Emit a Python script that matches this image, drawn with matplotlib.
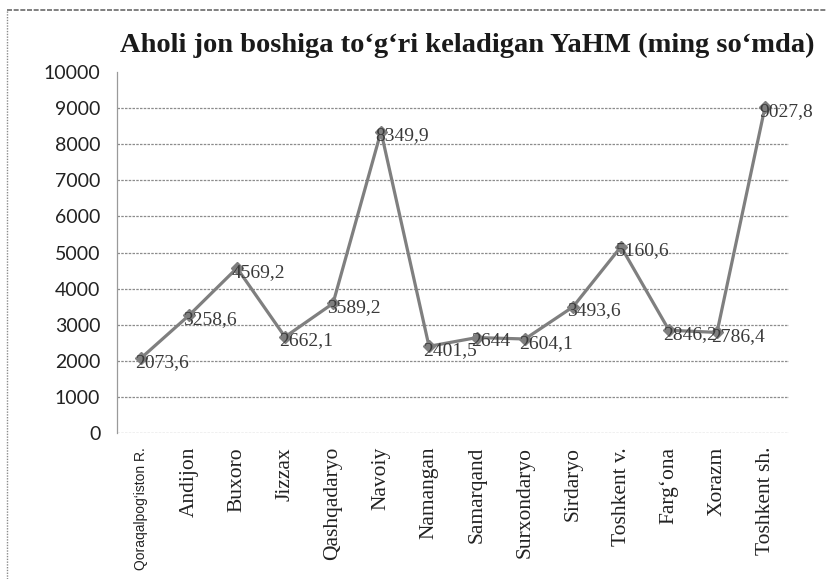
import matplotlib
matplotlib.use("Agg")
import matplotlib.pyplot as plt
from matplotlib.lines import Line2D

categories = ["Qoraqalpog\u2018iston R.", "Andijon", "Buxoro", "Jizzax", "Qashqadaryo",
              "Navoiy", "Namangan", "Samarqand", "Surxondaryo", "Sirdaryo",
              "Toshkent v.", "Farg\u2018ona", "Xorazm", "Toshkent sh."]
values = [2073.6, 3258.6, 4569.2, 2662.1, 3589.2, 8349.9, 2401.5, 2644.0,
          2604.1, 3493.6, 5160.6, 2846.2, 2786.4, 9027.8]
value_labels = ["2073,6", "3258,6", "4569,2", "2662,1", "3589,2", "8349,9", "2401,5",
                "2644", "2604,1", "3493,6", "5160,6", "2846,2", "2786,4", "9027,8"]
yticks = [0, 1000, 2000, 3000, 4000, 5000, 6000, 7000, 8000, 9000, 10000]
title = "Aholi jon boshiga to\u2018g\u2018ri keladigan YaHM (ming so\u2018mda)"

W, H = 826, 579
fig = plt.figure(figsize=(W / 100, H / 100), dpi=100)
ax = fig.add_axes([117 / W, 1 - 433 / H, (789 - 117) / W, (433 - 72) / H])

x = list(range(len(categories)))
ax.plot(x, values, color="#7f7f7f", lw=2.3, marker="D", ms=6,
        markerfacecolor="#7f7f7f", markeredgecolor="#7f7f7f", zorder=3)

for xi, v, lab in zip(x, values, value_labels):
    ax.annotate(lab, (xi, v), xytext=(-4, -3), textcoords="offset points",
                ha="left", va="center", fontsize=14,
                family="Liberation Serif", color="#3a3a3a", zorder=4)

ax.set_xlim(-0.5, len(categories) - 0.5)
ax.set_ylim(0, 10000)
ax.set_yticks(yticks)
ax.set_yticklabels([str(t) for t in yticks], family="Lato", fontsize=14, color="#222222")
ax.tick_params(axis="y", length=0, pad=12)
ax.tick_params(axis="x", length=0, pad=10)
ax.set_xticks(x)
ax.set_xticklabels(categories, rotation=90, ha="center", va="top",
                   family="Liberation Serif", fontsize=15.5, color="#222222")
lbl0 = ax.get_xticklabels()[0]
lbl0.set_family("Liberation Sans")
lbl0.set_fontsize(10)

for t in yticks[:-1]:
    ax.axhline(t, color="#8c8c8c", lw=0.9, ls=(0, (2, 1)), zorder=1)
for s in ["top", "right", "bottom"]:
    ax.spines[s].set_visible(False)
ax.spines["left"].set_color("#9a9a9a")
ax.spines["left"].set_linestyle((0, (1, 1)))
ax.spines["left"].set_linewidth(0.9)

fig.text(467 / W, 1 - 45 / H, title, ha="center", va="center",
         family="Liberation Serif", fontweight="bold", fontsize=20.5, color="#1a1a1a")

# outer frame
fig.add_artist(Line2D([7 / W, 7 / W], [0, 1 - 10 / H], transform=fig.transFigure,
                      color="#8a8a8a", lw=1.0, ls=(0, (1, 1))))
fig.add_artist(Line2D([7 / W, 1], [1 - 10 / H, 1 - 10 / H], transform=fig.transFigure,
                      color="#6a6a6a", lw=1.2, ls=(0, (3, 1))))

fig.savefig("out.png", dpi=100)
